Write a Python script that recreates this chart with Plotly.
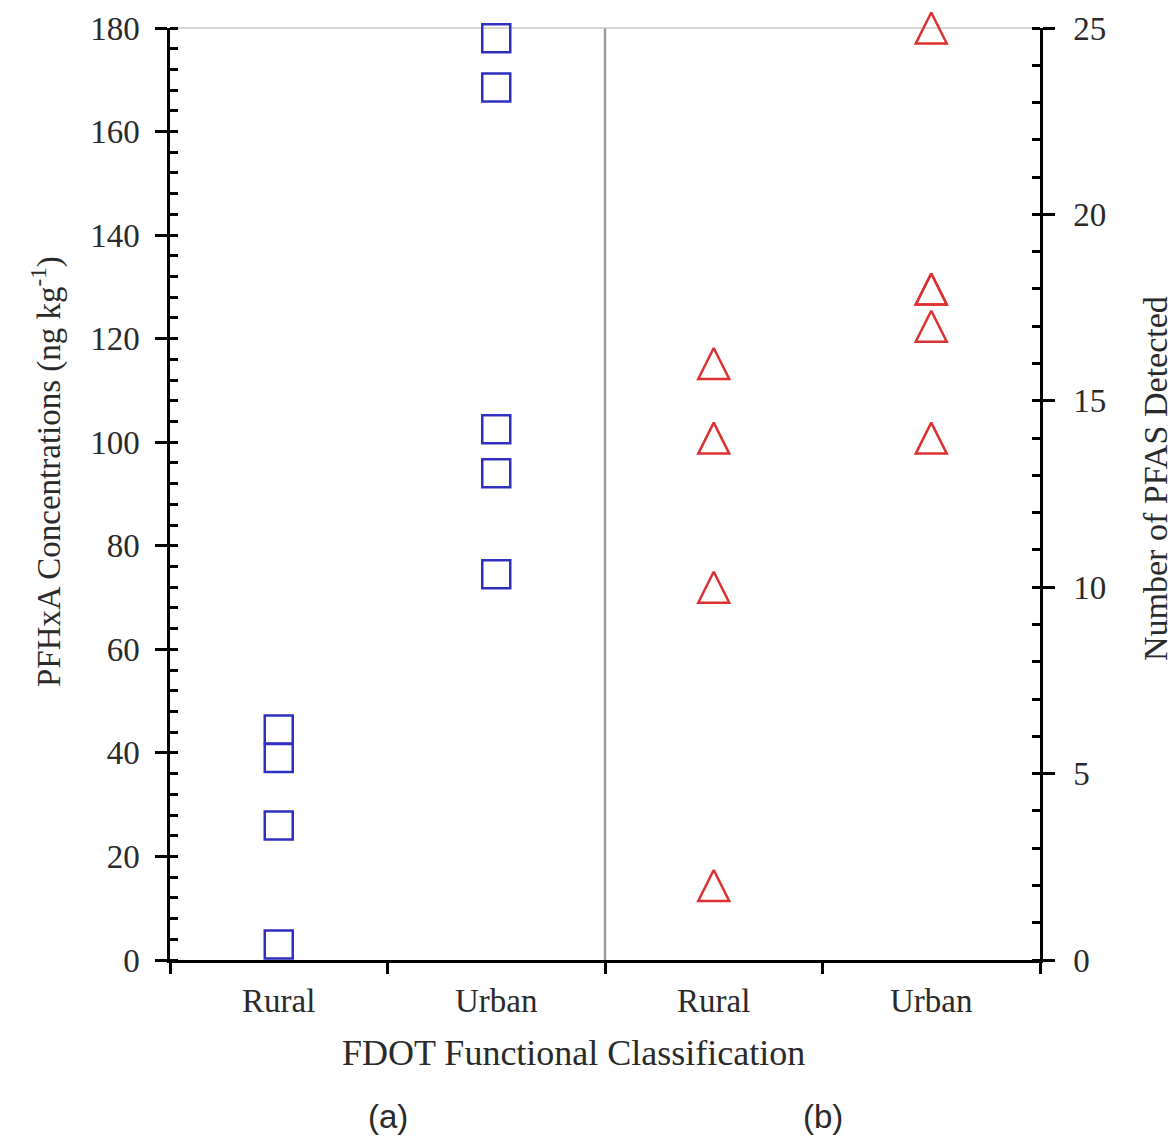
import plotly.graph_objects as go

# ---- data ----
categories = ["Rural", "Urban"]
pfhxa_rural = [44.5, 39.0, 26.0, 3.0]
pfhxa_urban = [178.0, 168.5, 102.5, 94.0, 74.5]
npfas_rural = [16, 14, 10, 2]
npfas_urban = [25, 18, 18, 17, 14]

left_ticks = [0, 20, 40, 60, 80, 100, 120, 140, 160, 180]
right_ticks = [0, 5, 10, 15, 20, 25]

# category positions on a shared numeric x axis (panel a: 0-2, panel b: 2-4)
pos_a = {"Rural": 0.5, "Urban": 1.5}
pos_b = {"Rural": 2.5, "Urban": 3.5}

FONT = "Liberation Serif"
TXT = "#2a2a2a"
BLUE = "#3030c0"
RED = "#dd3030"

fig = go.Figure()

fig.add_trace(go.Scatter(
    x=[pos_a["Rural"]] * len(pfhxa_rural) + [pos_a["Urban"]] * len(pfhxa_urban),
    y=pfhxa_rural + pfhxa_urban,
    mode="markers", yaxis="y",
    marker=dict(symbol="square-open", size=28, color=BLUE, line=dict(width=2.5, color=BLUE)),
    showlegend=False, cliponaxis=False,
))

tri = 31
fig.add_trace(go.Scatter(
    x=[pos_b["Rural"]] * len(npfas_rural) + [pos_b["Urban"]] * len(npfas_urban),
    y=npfas_rural + npfas_urban,
    mode="markers", yaxis="y2",
    marker=dict(symbol="arrow-down-open", size=tri, angle=180, standoff=tri / 2,
                color=RED, line=dict(width=2.5, color=RED)),
    showlegend=False, cliponaxis=False,
))

tickfont = dict(family=FONT, size=33, color=TXT)

fig.update_layout(
    width=1176, height=1143,
    margin=dict(l=170, r=136, t=28, b=183),
    plot_bgcolor="white", paper_bgcolor="white",
    xaxis=dict(
        range=[0, 4], showgrid=False, zeroline=False,
        showline=True, linecolor="black", linewidth=2.5,
        tickmode="array",
        tickvals=[pos_a[c] for c in categories] + [pos_b[c] for c in categories],
        ticktext=categories + categories,
        ticks="", tickfont=tickfont, ticklabelstandoff=10,
        minor=dict(tickmode="array", tickvals=[0, 1, 2, 3, 4], ticks="outside",
                   ticklen=11, tickwidth=2.5, tickcolor="black", showgrid=False),
    ),
    yaxis=dict(
        range=[0, 180], tickmode="array", tickvals=left_ticks,
        showgrid=False, zeroline=False,
        showline=True, linecolor="black", linewidth=2.5,
        ticks="outside", ticklen=12, tickwidth=2.5, tickcolor="black",
        tickfont=tickfont, ticklabelstandoff=9,
        minor=dict(dtick=4, ticks="inside", ticklen=8, tickwidth=2.5, tickcolor="black"),
    ),
    yaxis3=dict(
        range=[0, 180], overlaying="y", side="left", tickmode="array", tickvals=left_ticks,
        showgrid=False, zeroline=False, showline=False, showticklabels=False,
        ticks="inside", ticklen=8, tickwidth=2.5, tickcolor="black",
    ),
    yaxis2=dict(
        range=[0, 25], overlaying="y", side="right", anchor="x",
        tickmode="array", tickvals=right_ticks,
        showgrid=False, zeroline=False,
        showline=True, linecolor="black", linewidth=2.5,
        ticks="outside", ticklen=12, tickwidth=2.5, tickcolor="black",
        tickfont=tickfont, ticklabelstandoff=12,
        minor=dict(dtick=1, ticks="inside", ticklen=8, tickwidth=2.5, tickcolor="black"),
    ),
    yaxis4=dict(
        range=[0, 25], overlaying="y", side="right", tickmode="array", tickvals=right_ticks,
        showgrid=False, zeroline=False, showline=False, showticklabels=False,
        ticks="inside", ticklen=8, tickwidth=2.5, tickcolor="black",
    ),
    shapes=[
        dict(type="line", xref="x", yref="paper", x0=2, x1=2, y0=0, y1=1,
             line=dict(color="#9a9a9a", width=2.5), layer="below"),
        dict(type="line", xref="paper", yref="paper", x0=0, x1=1, y0=1, y1=1,
             line=dict(color="#c8c8c8", width=1.5), layer="below"),
    ],
    annotations=[
        dict(text="PFHxA Concentrations (ng kg<sup>-1</sup>)", textangle=-90,
             xref="paper", yref="paper", x=-0.1425, y=0.5236,
             xanchor="center", yanchor="middle", showarrow=False,
             font=dict(family=FONT, size=33, color=TXT)),
        dict(text="Number of PFAS Detected", textangle=-90,
             xref="paper", yref="paper", x=1.132, y=0.517,
             xanchor="center", yanchor="middle", showarrow=False,
             font=dict(family=FONT, size=34, color=TXT)),
        dict(text="FDOT Functional Classification", xref="paper", yref="paper",
             x=0.464, y=-0.1, xanchor="center", yanchor="middle", showarrow=False,
             font=dict(family=FONT, size=36, color=TXT)),
        dict(text="(a)", xref="paper", yref="paper", x=0.25, y=-0.1674,
             xanchor="center", yanchor="middle",
             showarrow=False, font=dict(family="Liberation Sans", size=33, color=TXT)),
        dict(text="(b)", xref="paper", yref="paper", x=0.75, y=-0.1674,
             xanchor="center", yanchor="middle",
             showarrow=False, font=dict(family="Liberation Sans", size=33, color=TXT)),
    ],
)

fig.write_html("out.html")
